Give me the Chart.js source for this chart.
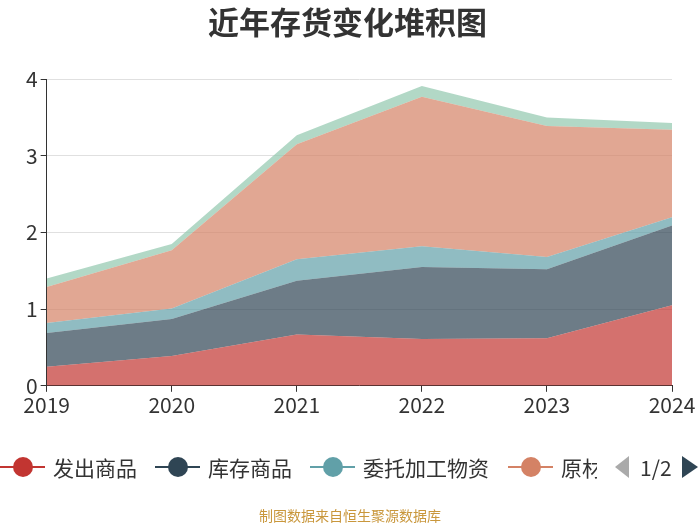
<!DOCTYPE html>
<html><head><meta charset="utf-8">
<script src="https://cdn.jsdelivr.net/npm/chart.js@4"></script>
<style>
html,body{margin:0;padding:0;background:#fff;}
#wrap{position:relative;width:700px;height:525px;overflow:hidden;font-family:"Noto Sans CJK SC","Noto Sans",sans-serif;}
canvas{position:absolute;left:0;top:0;}
#legend{position:absolute;left:0;top:454px;height:26px;width:700px;}
.item{position:absolute;top:0;height:26px;display:flex;align-items:center;font-size:21px;color:#333;white-space:nowrap;}
.mk{position:relative;width:45px;height:26px;margin-right:8px;}
.mk .ln{position:absolute;left:0;top:12px;width:45px;height:2px;}
.mk .dot{position:absolute;left:13px;top:3px;width:20px;height:20px;border-radius:50%;}
#pager{position:absolute;top:0;left:615px;height:26px;display:flex;align-items:center;font-size:21px;color:#333;}
#src{position:absolute;top:505px;width:700px;text-align:center;font-size:14px;color:#c9973c;}
</style></head>
<body><div id="wrap">
<canvas id="c" width="700" height="525"></canvas>
<div id="legend"></div>
<div id="src">制图数据来自恒生聚源数据库</div>
</div>
<script>
const categories = ["2019","2020","2021","2022","2023","2024"];
const seriesNames = ["发出商品","库存商品","委托加工物资","原材料","在产品"];
const fachu   = [0.25, 0.39, 0.67, 0.61, 0.62, 1.05];
const kucun   = [0.44, 0.48, 0.70, 0.94, 0.90, 1.04];
const weituo  = [0.13, 0.14, 0.28, 0.27, 0.16, 0.11];
const yuancai = [0.47, 0.76, 1.50, 1.95, 1.71, 1.14];
const zaichan = [0.11, 0.08, 0.12, 0.14, 0.11, 0.09];
const yTicks = [0,1,2,3,4];
const colors = ["#c23531","#2f4554","#61a0a8","#d48265","#91c7ae"];
const values = [fachu,kucun,weituo,yuancai,zaichan];

function rgba(hex,a){const n=parseInt(hex.slice(1),16);return `rgba(${n>>16},${(n>>8)&255},${n&255},${a})`;}

const datasets = values.map((v,i)=>({
  label: seriesNames[i], data: v,
  backgroundColor: rgba(colors[i],0.7), borderColor: rgba(colors[i],0.7),
  borderWidth: 0, pointRadius: 0, tension: 0,
  fill: i===0 ? 'origin' : '-1'
}));

Chart.defaults.font.family = '"Noto Sans CJK SC","Noto Sans",sans-serif';
new Chart(document.getElementById('c'), {
  type: 'line',
  data: {labels: categories, datasets},
  options: {
    responsive:false, animation:false,
    layout:{padding:{left:23,right:28,top:0,bottom:106}},
    plugins:{
      legend:{display:false}, tooltip:{enabled:false},
      title:{display:true,text:'近年存货变化堆积图',color:'#333',font:{size:31,weight:'bold'},padding:{top:4,bottom:38}}
    },
    scales:{
      x:{offset:false,
        grid:{color:'transparent',drawOnChartArea:false,tickColor:'#333',tickLength:6},
        border:{color:'#333',width:1},
        ticks:{color:'#333',font:{size:21},padding:1,maxRotation:0,autoSkip:false}},
      y:{stacked:true,min:0,max:4,
        afterBuildTicks:(ax)=>{ax.ticks=yTicks.map(v=>({value:v}));},
        grid:{color:'#e0e0e0',tickColor:'#333',tickLength:6},
        border:{color:'#333',width:1},
        ticks:{color:'#333',font:{size:21},padding:3}}
    }
  }
});

// legend (page 1 of 2)
const lg = document.getElementById('legend');
const pos = [0,155,310,508];
for(let i=0;i<4;i++){
  const d=document.createElement('div'); d.className='item'; d.style.left=pos[i]+'px';
  const mk=`<div class="mk"><div class="ln" style="background:${colors[i]}"></div><div class="dot" style="background:${colors[i]}"></div></div>`;
  let txt = `<span>${seriesNames[i]}</span>`;
  if(i===3) txt = `<span style="display:inline-block;width:36px;overflow:hidden;">${seriesNames[i]}</span>`;
  d.innerHTML = mk+txt; lg.appendChild(d);
}
const pg=document.createElement('div'); pg.id='pager';
pg.innerHTML = `<svg width="14" height="22"><polygon points="14,0 0,11 14,22" fill="#aaa"/></svg><span style="margin:0 10px 0 11px;">1/2</span><svg width="16" height="22"><polygon points="0,0 16,11 0,22" fill="#2f4554"/></svg>`;
lg.appendChild(pg);
</script>
</body></html>
